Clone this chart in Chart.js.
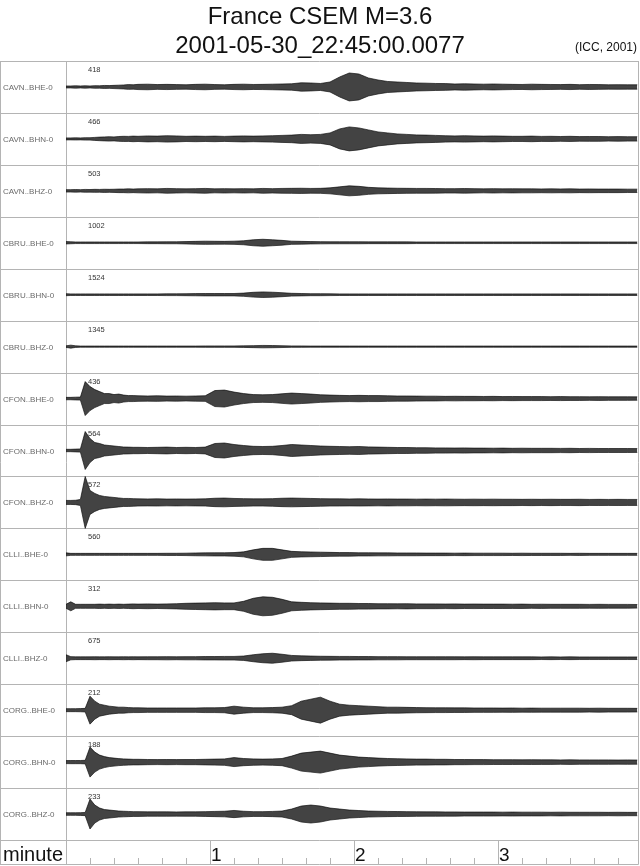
<!DOCTYPE html>
<html>
<head>
<meta charset="utf-8">
<script src="https://cdn.jsdelivr.net/npm/chart.js@4"></script>
<style>
  html, body { margin: 0; padding: 0; background: #fff; }
  canvas { display: block; }
</style>
</head>
<body>
<canvas id="seis" width="640" height="866"></canvas>
<script>
// channel names and peak counts written above each trace
const channels = ['CAVN..BHE-0', 'CAVN..BHN-0', 'CAVN..BHZ-0',
                  'CBRU..BHE-0', 'CBRU..BHN-0', 'CBRU..BHZ-0',
                  'CFON..BHE-0', 'CFON..BHN-0', 'CFON..BHZ-0',
                  'CLLI..BHE-0', 'CLLI..BHN-0', 'CLLI..BHZ-0',
                  'CORG..BHE-0', 'CORG..BHN-0', 'CORG..BHZ-0'];
const peakCounts = [418, 466, 503, 1002, 1524, 1345, 436, 564, 572, 560, 312, 675, 212, 188, 233];

const seconds = [0, 2, 4, 6, 8, 10, 12, 14, 16, 18, 20, 22, 24, 26, 28, 30,
                 34, 38, 42, 46, 50, 54, 58, 62, 66, 70, 74, 78, 82, 86, 90, 94, 98, 102, 106, 110,
                 114, 118, 122, 126, 130, 134, 138, 142, 146, 150,
                 154, 158, 162, 166, 170, 174, 178, 182, 186, 190, 194, 198, 202, 206, 210,
                 214, 218, 222, 226, 230, 234, 238];

const minuteLabels = ['1', '2', '3'];

// half amplitude of each trace (drawn size) at the times above
const cavnBhe = [1, 1, 1.2, 1, 1.2, 1, 1.3, 1.2, 1.5, 1.4, 1.6, 1.8, 2, 2.4, 2.2, 2.6,
  2.8, 2.4, 2.6, 2.4, 2.2, 2.6, 2.8, 2.4, 2.2, 2.6, 2.8, 2.5, 2.6, 2.8, 3, 3.2, 4.2, 4, 3.5, 5,
  10, 14, 13, 9, 7, 5.5, 5, 4.5, 4, 3.8,
  3.5, 3.4, 3, 3.2, 3, 2.8, 3, 2.8, 2.6, 2.5, 2.8, 2.6, 2.5, 2.4, 2.6, 2.3, 2.5, 2.4, 2.2, 2.3, 2.2, 2.2];
const cavnBhn = [1, 1, 1.1, 1, 1.2, 1.2, 1.5, 1.8, 2, 2.2, 2, 2.4, 2.6, 2.5, 2.8, 2.6,
  3, 2.8, 3.2, 3, 2.6, 2.8, 2.6, 2.8, 2.5, 2.8, 3, 2.8, 3, 3.2, 3.5, 3.8, 4.5, 4.2, 4.5, 6,
  10, 12, 11, 9, 7, 6, 5, 4.5, 4, 3.8,
  3.5, 3.2, 3, 3.2, 3, 2.8, 3, 2.8, 2.6, 2.6, 2.8, 2.5, 2.6, 2.4, 2.6, 2.3, 2.4, 2.4, 2.2, 2.3, 2.2, 2.2];
const cavnBhz = [1.2, 1.2, 1.3, 1.2, 1.4, 1.3, 1.5, 1.4, 1.6, 1.5, 1.6, 1.8, 1.8, 2, 1.8, 2,
  2.2, 2, 2.4, 2.2, 2, 2.2, 2.4, 2, 2.2, 2, 2.2, 2, 2.4, 2.2, 2.4, 2.5, 2.6, 2.4, 2.5, 3,
  4, 5, 4.5, 3.5, 3, 2.8, 2.6, 2.5, 2.4, 2.4,
  2.3, 2.2, 2.2, 2.3, 2.2, 2, 2.2, 2, 2.1, 2, 2, 1.9, 2, 1.9, 2, 1.8, 1.9, 1.8, 1.8, 1.8, 1.7, 1.7];
const cbruBhe = [1.2, 1, 0.8, 0.8, 0.8, 0.8, 0.8, 0.8, 0.8, 0.8, 0.8, 0.8, 0.8, 0.8, 0.8, 0.8,
  0.9, 0.9, 1, 1, 1.2, 1.4, 1.6, 1.5, 1.4, 1.6, 2, 3, 3.5, 3, 2.4, 1.6, 1.4, 1.2, 1.1, 1,
  1, 1, 1, 0.9, 0.9, 0.9, 0.9, 0.9, 0.8, 0.8,
  0.8, 0.8, 0.8, 0.8, 0.8, 0.8, 0.8, 0.8, 0.8, 0.8, 0.8, 0.8, 0.8, 0.8, 0.8, 0.8, 0.8, 0.8, 0.8, 0.8, 0.8, 0.8];
const cbruBhn = [1, 0.8, 0.8, 0.8, 0.8, 0.8, 0.8, 0.8, 0.8, 0.8, 0.8, 0.8, 0.8, 0.8, 0.8, 0.8,
  0.8, 0.8, 0.9, 0.9, 1, 1.1, 1.2, 1.2, 1.2, 1.2, 1.6, 2.4, 2.8, 2.5, 2, 1.4, 1.2, 1, 1, 0.9,
  0.8, 0.8, 0.8, 0.8, 0.8, 0.8, 0.8, 0.8, 0.8, 0.8,
  0.8, 0.8, 0.8, 0.8, 0.8, 0.8, 0.8, 0.8, 0.8, 0.8, 0.8, 0.8, 0.8, 0.8, 0.8, 0.8, 0.8, 0.8, 0.8, 0.8, 0.8, 0.8];
const cbruBhz = [0.8, 1.5, 0.8, 0.6, 0.6, 0.6, 0.6, 0.6, 0.6, 0.6, 0.6, 0.6, 0.6, 0.6, 0.6, 0.6,
  0.6, 0.6, 0.6, 0.6, 0.6, 0.6, 0.7, 0.7, 0.7, 0.7, 0.8, 1, 1.2, 1.1, 0.9, 0.7, 0.7, 0.6, 0.6, 0.6,
  0.6, 0.6, 0.6, 0.6, 0.6, 0.6, 0.6, 0.6, 0.6, 0.6,
  0.6, 0.6, 0.6, 0.6, 0.6, 0.6, 0.6, 0.6, 0.6, 0.6, 0.6, 0.6, 0.6, 0.6, 0.6, 0.6, 0.6, 0.6, 0.6, 0.6, 0.6, 0.6];
const cfonBhe = [1.2, 1.2, 1.4, 1.5, 17, 12, 9, 7, 5, 5, 4, 4.5, 3.5, 3, 3, 2.8,
  2.6, 2.8, 2.5, 2.6, 2.4, 2.6, 2.8, 8, 8.5, 6.5, 5, 4, 3.8, 4, 4.8, 5.5, 5, 4.5, 3.8, 3.5,
  3.2, 3, 3.2, 3, 3, 2.8, 2.6, 2.6, 2.5, 2.4,
  2.4, 2.2, 2.3, 2.2, 2.2, 2.1, 2.2, 2, 2.1, 2, 2, 2, 1.9, 2, 1.9, 1.9, 1.8, 1.9, 1.8, 1.8, 1.8, 1.7];
const cfonBhn = [1.2, 1.2, 1.4, 1.6, 19, 12, 8, 7, 5.5, 5, 4.5, 4, 3.5, 3.4, 3.2, 3.2,
  3, 3.2, 3.4, 3, 3.2, 3, 3.4, 7, 7.5, 6, 5, 4.2, 4, 4.2, 5, 6, 5.5, 5, 4.5, 4.2,
  4, 3.8, 4, 3.6, 3.4, 3.2, 3, 3, 2.8, 2.8,
  2.6, 2.6, 2.5, 2.6, 2.4, 2.4, 2.3, 2.4, 2.2, 2.3, 2.2, 2.2, 2.2, 2.1, 2.2, 2, 2.1, 2, 2, 2, 2, 1.9];
const cfonBhz = [2, 2, 2.2, 3, 26, 12, 9, 7, 6, 5.5, 5, 4.5, 4, 4, 3.8, 3.6,
  3.5, 3.6, 3.4, 3.5, 3.4, 3.5, 3.6, 4.2, 4.4, 4, 3.8, 3.6, 3.6, 3.8, 4.2, 4.4, 4.2, 4, 3.8, 3.6,
  3.6, 3.5, 3.6, 3.5, 3.4, 3.5, 3.4, 3.4, 3.3, 3.4,
  3.3, 3.4, 3.3, 3.2, 3.3, 3.2, 3.3, 3.2, 3.2, 3.1, 3.2, 3.1, 3.2, 3.1, 3.1, 3.2, 3, 3.1, 3, 3.1, 3, 3];
const clliBhe = [1.5, 1, 1, 1, 1, 1, 1, 1, 1, 1, 1, 1, 1, 1, 1, 1,
  1, 1, 1.1, 1.1, 1.2, 1.4, 1.5, 1.6, 1.6, 1.8, 2.5, 4.5, 6, 6, 4.5, 3, 2.6, 2.4, 2.2, 2,
  1.8, 1.8, 1.6, 1.6, 1.5, 1.5, 1.4, 1.4, 1.4, 1.3,
  1.3, 1.3, 1.2, 1.3, 1.2, 1.2, 1.2, 1.2, 1.1, 1.2, 1.1, 1.1, 1.1, 1.1, 1, 1.1, 1, 1, 1, 1, 1, 1];
const clliBhn = [2, 4.5, 2, 2, 2, 2, 2, 2.2, 2, 2.2, 2, 2.2, 2, 2.2, 2.4, 2.2,
  2.4, 2.2, 2.4, 2.6, 3, 3.2, 3.4, 3.6, 3.4, 3.4, 5, 8, 9.5, 9, 7, 4.5, 4, 3.6, 3.4, 3.2,
  3, 3, 2.8, 2.8, 2.6, 2.6, 2.5, 2.6, 2.4, 2.4,
  2.4, 2.3, 2.4, 2.2, 2.3, 2.2, 2.2, 2.2, 2.1, 2.2, 2, 2.1, 2, 2, 2, 2, 1.9, 2, 1.9, 1.9, 1.9, 1.8];
const clliBhz = [3.5, 1.6, 1.4, 1.4, 1.4, 1.4, 1.5, 1.4, 1.4, 1.5, 1.4, 1.4, 1.5, 1.4, 1.5, 1.4,
  1.5, 1.5, 1.6, 1.5, 1.6, 1.6, 1.7, 1.7, 1.8, 1.8, 2.2, 3.5, 4.5, 5, 4, 2.8, 2.4, 2.2, 2, 1.9,
  1.8, 1.8, 1.7, 1.7, 1.6, 1.6, 1.6, 1.5, 1.5, 1.5,
  1.5, 1.5, 1.5, 1.4, 1.5, 1.4, 1.4, 1.4, 1.4, 1.4, 1.4, 1.3, 1.4, 1.3, 1.4, 1.3, 1.3, 1.3, 1.3, 1.3, 1.3, 1.3];
const corgBhe = [1.5, 1.5, 1.5, 1.6, 1.8, 14, 9, 6, 5, 4, 3.5, 3, 3, 2.6, 2.4, 2.4,
  2.2, 2.2, 2.2, 2.2, 2.2, 2.2, 2.4, 2.4, 2.6, 4, 3, 2.4, 2.4, 2.6, 3, 4.5, 9, 11, 13, 9,
  6, 5, 4.5, 4, 3.5, 3, 3, 2.8, 2.6, 2.5,
  2.4, 2.4, 2.3, 2.3, 2.2, 2.2, 2.2, 2.1, 2.2, 2, 2.1, 2, 2, 2, 2, 2, 1.9, 2, 1.9, 1.9, 1.9, 1.8];
const corgBhn = [1.5, 1.6, 1.6, 1.6, 1.8, 15, 10, 7, 5.5, 4.5, 4, 3.5, 3.2, 3, 2.8, 2.8,
  2.6, 2.5, 2.6, 2.5, 2.6, 2.6, 2.8, 3, 3.2, 4.5, 3.6, 3.2, 3, 3.2, 3.6, 6, 9, 10, 11, 9,
  7, 6, 5, 4.5, 4, 3.6, 3.4, 3.2, 3, 3,
  2.8, 2.8, 2.6, 2.6, 2.5, 2.5, 2.4, 2.4, 2.4, 2.3, 2.4, 2.3, 2.3, 2.2, 2.3, 2.2, 2.2, 2.2, 2.2, 2.1, 2.2, 2.1];
const corgBhz = [1.3, 1.3, 1.3, 1.4, 1.6, 15, 9, 6, 4.5, 4, 3.5, 3, 2.8, 2.6, 2.4, 2.4,
  2.2, 2.2, 2.2, 2.1, 2.2, 2.2, 2.4, 2.6, 2.8, 3.6, 2.8, 2.4, 2.4, 2.6, 3, 5, 8, 9, 8, 6,
  5, 4, 3.5, 3, 2.8, 2.6, 2.5, 2.4, 2.3, 2.2,
  2.2, 2.1, 2.1, 2, 2, 2, 2, 1.9, 2, 1.9, 1.9, 1.9, 1.8, 1.9, 1.8, 1.8, 1.8, 1.8, 1.7, 1.8, 1.7, 1.7];

const traces = [cavnBhe, cavnBhn, cavnBhz, cbruBhe, cbruBhn, cbruBhz,
                cfonBhe, cfonBhn, cfonBhz, clliBhe, clliBhn, clliBhz,
                corgBhe, corgBhn, corgBhz];

const ROW = 52;          // y units per trace row
const GRID = '#b4b4b4';
const FONT = '"Liberation Sans", Arial, Helvetica, sans-serif';

// each trace becomes a band: upper edge filled down to the lower edge
const datasets = [];
traces.forEach((amp, i) => {
    const base = -(i * ROW + ROW / 2);
    datasets.push({
        label: channels[i] + ' +',
        data: seconds.map((t, k) => ({ x: t, y: base + amp[k] })),
        borderColor: 'rgba(0,0,0,0.9)',
        borderWidth: 0.7,
        backgroundColor: 'rgba(20,20,20,0.8)',
        fill: '+1'
    });
    datasets.push({
        label: channels[i] + ' -',
        data: seconds.map((t, k) => ({ x: t, y: base - amp[k] })),
        borderColor: 'rgba(0,0,0,0.9)',
        borderWidth: 0.7,
        fill: false
    });
});

// frame, row labels, counts, titles and minute axis
const framePlugin = {
    id: 'seisFrame',
    beforeDraw(chart) {
        const ctx = chart.ctx;
        ctx.save();
        ctx.fillStyle = '#fff';
        ctx.fillRect(0, 0, chart.width, chart.height);
        ctx.restore();
    },
    beforeDatasetsDraw(chart) {
        const ctx = chart.ctx;
        const area = chart.chartArea;
        const bottom = 864.5;
        ctx.save();
        ctx.strokeStyle = GRID;
        ctx.lineWidth = 1;
        ctx.beginPath();
        for (let i = 0; i <= traces.length; i++) {
            const y = Math.round(area.top + i * (area.bottom - area.top) / traces.length) + 0.5;
            ctx.moveTo(0, y);
            ctx.lineTo(area.right + 0.5, y);
        }
        ctx.moveTo(0, bottom);
        ctx.lineTo(area.right + 0.5, bottom);
        ctx.moveTo(0.5, area.top);
        ctx.lineTo(0.5, bottom);
        ctx.moveTo(area.left + 0.5, area.top);
        ctx.lineTo(area.left + 0.5, bottom);
        ctx.moveTo(area.right + 0.5, area.top);
        ctx.lineTo(area.right + 0.5, bottom);
        ctx.stroke();
        ctx.restore();
    },
    afterDraw(chart) {
        const ctx = chart.ctx;
        const area = chart.chartArea;
        const xs = chart.scales.x;
        const ys = chart.scales.y;
        ctx.save();

        // titles
        ctx.fillStyle = '#111';
        ctx.textAlign = 'center';
        ctx.font = '24px ' + FONT;
        ctx.fillText('France CSEM M=3.6', 320, 24);
        ctx.fillText('2001-05-30_22:45:00.0077', 320, 53);
        ctx.textAlign = 'right';
        ctx.font = '12px ' + FONT;
        ctx.fillText('(ICC, 2001)', 637, 51);

        // channel labels and peak counts
        channels.forEach((name, i) => {
            const y = ys.getPixelForValue(-(i * ROW + ROW / 2));
            ctx.textAlign = 'left';
            ctx.fillStyle = '#6a6a6a';
            ctx.font = '8px ' + FONT;
            ctx.fillText(name, 3, y + 3);
            ctx.fillStyle = '#333';
            ctx.font = '7.5px ' + FONT;
            ctx.fillText(String(peakCounts[i]), 88, y - 15);
        });

        // minute axis
        const top = area.bottom;
        const bottom = 864;
        ctx.strokeStyle = GRID;
        ctx.lineWidth = 1;
        ctx.beginPath();
        for (let t = 10; t < xs.max; t += 10) {
            const x = Math.round(xs.getPixelForValue(t)) + 0.5;
            ctx.moveTo(x, t % 60 === 0 ? top : bottom - 6);
            ctx.lineTo(x, bottom);
        }
        ctx.stroke();
        ctx.fillStyle = '#111';
        ctx.font = '20px ' + FONT;
        ctx.textAlign = 'left';
        ctx.fillText('minute', 3, 861);
        ctx.font = '19px ' + FONT;
        minuteLabels.forEach((lab, k) => {
            ctx.fillText(lab, xs.getPixelForValue((k + 1) * 60) + 1, 861);
        });
        ctx.restore();
    }
};

new Chart(document.getElementById('seis'), {
    type: 'line',
    data: { datasets: datasets },
    options: {
        responsive: false,
        animation: false,
        devicePixelRatio: 1,
        layout: { padding: { left: 66, right: 2, top: 61, bottom: 26 } },
        plugins: {
            legend: { display: false },
            tooltip: { enabled: false },
            title: { display: false }
        },
        elements: {
            point: { radius: 0 },
            line: { tension: 0 }
        },
        scales: {
            x: { type: 'linear', min: 0, max: 238.3, display: false },
            y: { type: 'linear', min: -ROW * traces.length, max: 0, display: false }
        }
    },
    plugins: [framePlugin]
});
</script>
</body>
</html>
